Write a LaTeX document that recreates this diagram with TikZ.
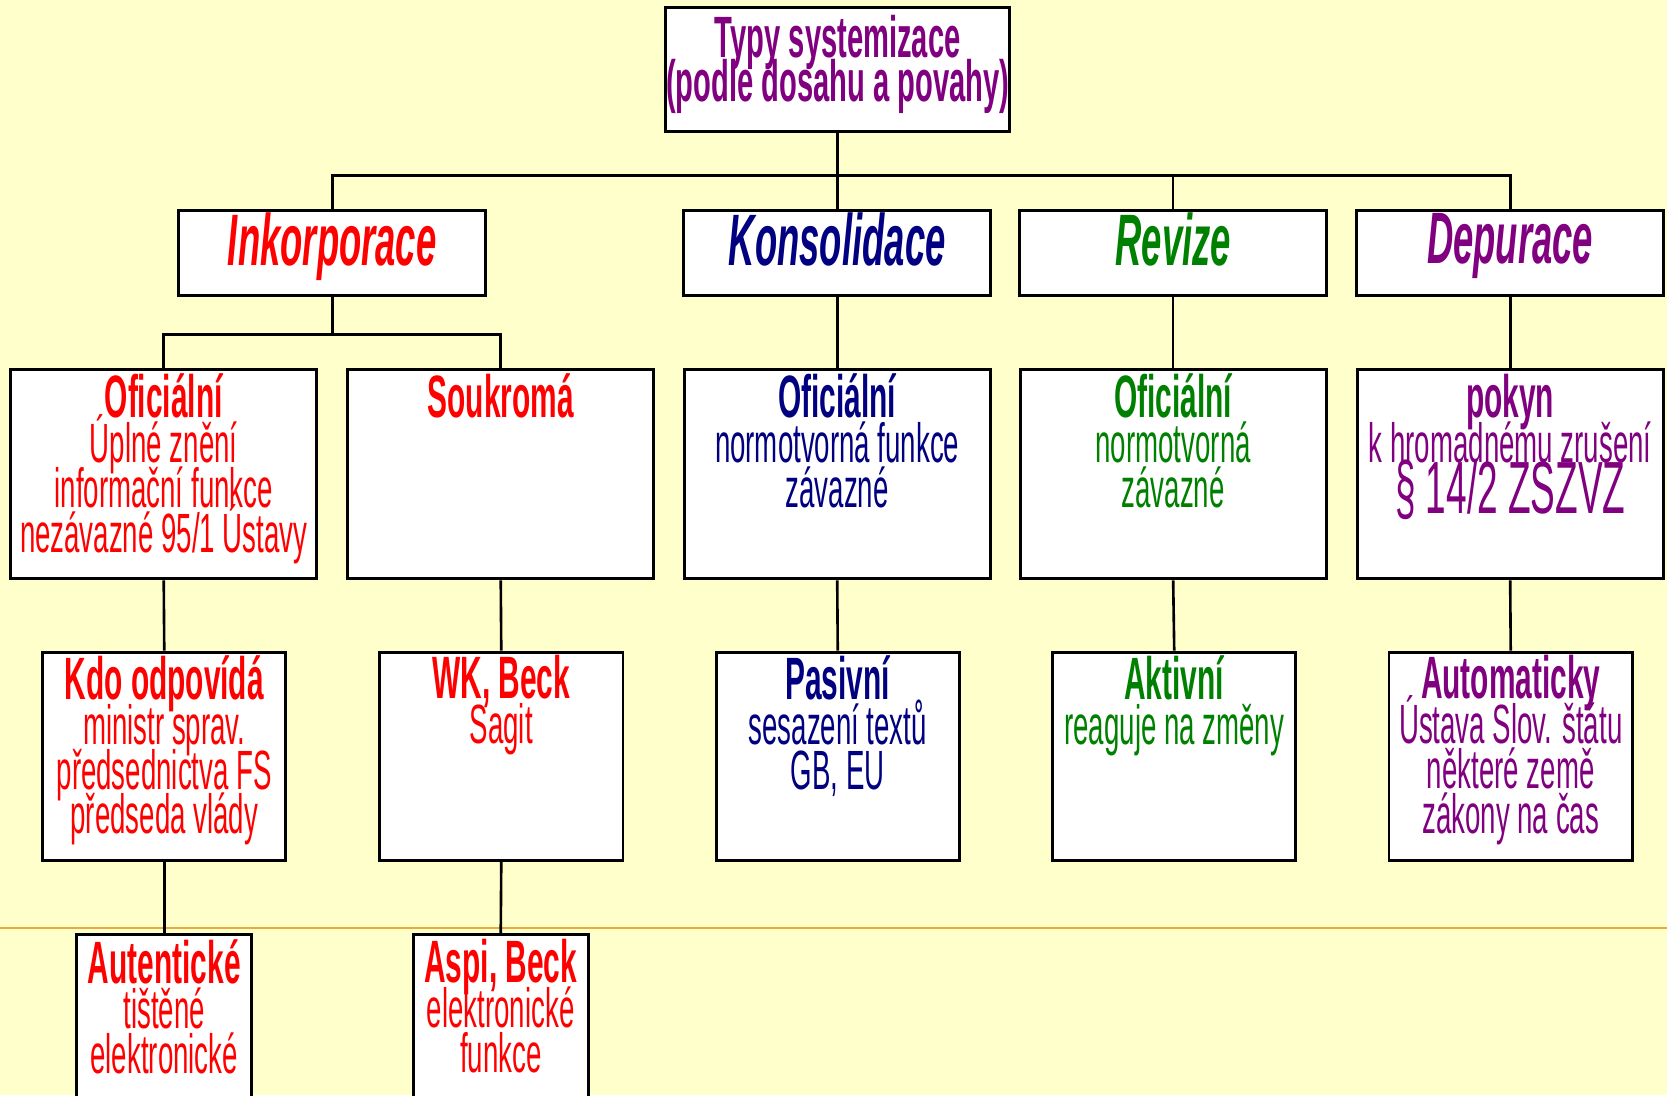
\documentclass[tikz,border=0pt]{standalone}
\usepackage{fontspec}
\usepackage[dvipsnames]{xcolor}
\newfontfamily\narrowsans[FakeStretch=0.5]{Liberation Sans}
\definecolor{paper}{RGB}{255,255,204}
\definecolor{inkred}{RGB}{255,0,0}
\definecolor{konblue}{RGB}{0,0,128}
\definecolor{revgreen}{RGB}{0,128,0}
\definecolor{deppurple}{RGB}{128,0,128}
\definecolor{rulecol}{RGB}{235,170,60}
\newcommand{\intest}[1]{{\bfseries\fontsize{16}{12}\selectfont #1}}
\newcommand{\stretta}{\lineskiplimit=-20pt\relax}

\begin{document}
\begin{tikzpicture}[x=0.1mm, y=-0.1mm,
			box/.style={draw=black, fill=white, line width=0.8pt, anchor=north, inner sep=0pt},
			lvltwo/.style={minimum width=28.9mm, minimum height=8mm, text depth=7.8pt,
				font=\narrowsans\bfseries\itshape\fontsize{19.5}{20}\selectfont},
			lvlthree/.style={minimum width=28.8mm, minimum height=19.7mm},
			lvlfour/.style={minimum width=22.9mm, minimum height=19.6mm},
			lvlfive/.style={minimum width=16.5mm, minimum height=17mm},
			txt/.style={align=center, anchor=north, inner sep=0pt,
				font=\narrowsans\fontsize{14.8}{12}\selectfont\stretta},
			link/.style={draw=black, line width=0.7pt}]
			
			% Sfondo
			\fill[paper] (0,0) rectangle (1568,1030);
			\useasboundingbox (0,0) rectangle (1568,1030);
			\draw[rulecol, line width=0.7pt] (0,873) -- (1568,873);
			
			% Radice
			\node[box, minimum width=32.4mm, minimum height=11.6mm, align=center, text=deppurple,
				text depth=6pt, font=\narrowsans\bfseries\fontsize{15.6}{12}\selectfont\stretta]
				(typy) at (788,6) {Typy systemizace\\(podle dosahu a povahy)};
			
			% Livello 2
			\node[box, lvltwo, text=inkred] (ink) at (312.5,197) {Inkorporace};
			\node[box, lvltwo, text=konblue] (kon) at (787.5,197) {Konsolidace};
			\node[box, lvltwo, text=revgreen] (rev) at (1103.5,197) {Revize};
			\node[box, lvltwo, text=deppurple] (dep) at (1420.5,197) {Depurace};
			
			% Livello 3
			\node[box, lvlthree] (ofiA) at (154,346) {};
			\node[box, lvlthree] (souk) at (471,346) {};
			\node[box, lvlthree] (ofiB) at (787.5,346) {};
			\node[box, lvlthree] (ofiC) at (1103.5,346) {};
			\node[box, lvlthree] (pokyn) at (1420.5,346) {};
			
			% Livello 4
			\node[box, lvlfour] (kdo) at (154.5,612) {};
			\node[box, lvlfour] (wk) at (471.5,612) {};
			\node[box, lvlfour] (pas) at (788,612) {};
			\node[box, lvlfour] (akt) at (1104.5,612) {};
			\node[box, lvlfour] (auto) at (1421,612) {};
			
			% Livello 5
			\node[box, lvlfive] (aut) at (154.5,878) {};
			\node[box, lvlfive] (aspi) at (471,878) {};
			
			% Testi
			\node[txt, text=inkred] (tofiA) at ([yshift=-0.5mm]ofiA.north)
				{\intest{Oficiální}\\Úplné znění\\informační funkce\\nezávazné 95/1 Ústavy};
			\node[txt, text=inkred] (tsouk) at ([yshift=-0.5mm]souk.north) {\intest{Soukromá}};
			\node[txt, text=konblue] (tofiB) at ([yshift=-0.5mm]ofiB.north)
				{\intest{Oficiální}\\normotvorná funkce\\závazné};
			\node[txt, text=revgreen] (tofiC) at ([yshift=-0.5mm]ofiC.north)
				{\intest{Oficiální}\\normotvorná\\závazné};
			\node[txt, text=deppurple] (tpokyn) at ([yshift=-0.5mm]pokyn.north)
				{\intest{pokyn}\\k hromadnému zrušení\\[1.7pt]{\fontsize{19.8}{14}\selectfont § 14/2 ZSZVZ}};
			
			\node[txt, text=inkred] (tkdo) at ([yshift=-0.4mm]kdo.north)
				{\intest{Kdo odpovídá}\\ministr sprav.\\předsednictva FS\\předseda vlády};
			\node[txt, text=inkred] (twk) at ([yshift=-0.4mm]wk.north) {\intest{WK, Beck}\\Sagit};
			\node[txt, text=konblue] (tpas) at ([yshift=-0.4mm]pas.north)
				{\intest{Pasivní}\\sesazení textů\\GB, EU};
			\node[txt, text=revgreen] (takt) at ([yshift=-0.4mm]akt.north)
				{\intest{Aktivní}\\reaguje na změny};
			\node[txt, text=deppurple] (tauto) at ([yshift=-0.4mm]auto.north)
				{\intest{Automaticky}\\Ústava Slov. štátu\\některé země\\zákony na čas};
			
			\node[txt, text=inkred] (taut) at ([yshift=-0.5mm]aut.north)
				{\intest{Autentické}\\tištěné\\elektronické};
			\node[txt, text=inkred] (taspi) at ([yshift=-0.5mm]aspi.north)
				{\intest{Aspi, Beck}\\elektronické\\funkce};
			
			% Collegamenti
			\draw[link] (typy.south) -- ++(0,40) -| (ink.north);
			\draw[link] (typy.south) -- ++(0,40) -| (kon.north);
			\draw[link] (typy.south) -- ++(0,40) -| (rev.north);
			\draw[link] (typy.south) -- ++(0,40) -| (dep.north);
			
			\draw[link] (ink.south) -- ++(0,35) -| (ofiA.north);
			\draw[link] (ink.south) -- ++(0,35) -| (souk.north);
			\draw[link] (kon.south) -- (ofiB.north);
			\draw[link] (rev.south) -- (ofiC.north);
			\draw[link] (dep.south) -- (pokyn.north);
			
			\draw[link] (ofiA.south) -- (kdo.north);
			\draw[link] (souk.south) -- (wk.north);
			\draw[link] (ofiB.south) -- (pas.north);
			\draw[link] (ofiC.south) -- (akt.north);
			\draw[link] (pokyn.south) -- (auto.north);
			
			\draw[link] (kdo.south) -- (aut.north);
			\draw[link] (wk.south) -- (aspi.north);
			
		\end{tikzpicture}
\end{document}
